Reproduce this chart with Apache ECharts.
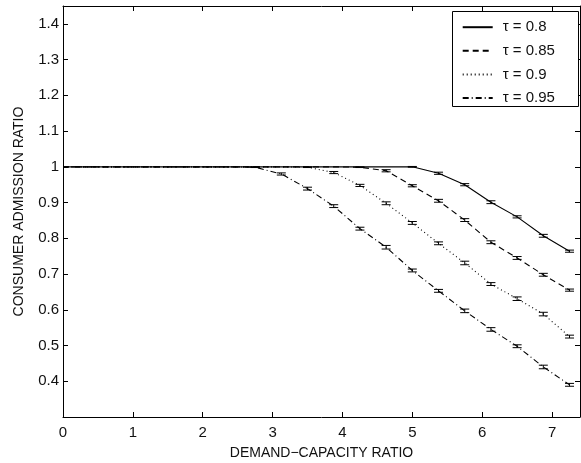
<!DOCTYPE html>
<html><head><meta charset="utf-8">
<script src="https://cdn.jsdelivr.net/npm/echarts@6/dist/echarts.min.js"></script>
<style>html,body{margin:0;padding:0;background:#fff}#c{width:581px;height:463px}</style>
</head><body><div id="c"></div>
<script>
// ---- data ----
const xValues = [0,0.125,0.5,0.875,1.25,1.625,2.0,2.375,2.75,3.125,3.5,3.875,4.25,4.625,5.0,5.375,5.75,6.125,6.5,6.875,7.25];
const seriesNames = ['τ = 0.8','τ = 0.85','τ = 0.9','τ = 0.95'];
const tau080 = [1,1,1,1,1,1,1,1,1,1,1,1,1,1,1.0,0.982,0.950,0.901,0.860,0.807,0.764];
const tau085 = [1,1,1,1,1,1,1,1,1,1,1,1,0.999,0.989,0.947,0.905,0.851,0.789,0.745,0.698,0.655];
const tau090 = [1,1,1,1,1,1,1,1,1,1,0.999,0.984,0.948,0.898,0.843,0.786,0.731,0.672,0.631,0.588,0.525];
const tau095 = [1,1,1,1,1,1,1,1,0.999,0.980,0.939,0.890,0.827,0.775,0.710,0.653,0.597,0.545,0.498,0.440,0.390];
const err080 = [0,0,0,0,0,0,0,0,0,0,0,0,0,0,0.001,0.003,0.003,0.004,0.003,0.004,0.003];
const err085 = [0,0,0,0,0,0,0,0,0,0,0,0,0.001,0.003,0.003,0.004,0.004,0.004,0.004,0.004,0.003];
const err090 = [0,0,0,0,0,0,0,0,0,0,0.001,0.003,0.003,0.004,0.004,0.004,0.005,0.004,0.005,0.005,0.004];
const err095 = [0,0,0,0,0,0,0,0,0.001,0.003,0.004,0.004,0.004,0.005,0.004,0.004,0.005,0.005,0.004,0.005,0.004];
const xTicks = [0,1,2,3,4,5,6,7];
const yTicks = [0.4,0.5,0.6,0.7,0.8,0.9,1,1.1,1.2,1.3,1.4];

const values = [tau080, tau085, tau090, tau095];
const errors = [err080, err085, err090, err095];
const dashes = ['solid', [6,4], [1,3], [6,3,1,3]];
const FONT = 'Liberation Sans';
const TXT = '#111';

const lineSeries = values.map((v, i) => ({
  name: seriesNames[i], type: 'line', xAxisIndex: 0, yAxisIndex: 0,
  data: xValues.map((x, k) => [x, v[k]]),
  symbol: 'none', showSymbol: false, z: 3,
  lineStyle: {color: '#000', width: 1.1, type: dashes[i]},
  itemStyle: {color: '#000'},
  animation: false
}));
const errSeries = values.map((v, i) => ({
  name: 'err' + i, type: 'custom', xAxisIndex: 0, yAxisIndex: 0, z: 4,
  data: xValues.map((x, k) => [x, v[k] - errors[i][k], v[k] + errors[i][k]]).filter((d, k) => errors[i][k] > 0),
  encode: {x: 0, y: [1, 2]},
  renderItem: (params, api) => {
    const x = api.value(0);
    const pLo = api.coord([x, api.value(1)]);
    const pHi = api.coord([x, api.value(2)]);
    const w = 4.5, st = {stroke: '#000', lineWidth: 1};
    return {type: 'group', children: [
      {type: 'line', shape: {x1: pLo[0], y1: pLo[1], x2: pHi[0], y2: pHi[1]}, style: st},
      {type: 'line', shape: {x1: pLo[0]-w, y1: pLo[1], x2: pLo[0]+w, y2: pLo[1]}, style: st},
      {type: 'line', shape: {x1: pHi[0]-w, y1: pHi[1], x2: pHi[0]+w, y2: pHi[1]}, style: st}
    ]};
  },
  animation: false
}));

const axisLine = {show: true, onZero: false, lineStyle: {color: '#000', width: 1}};
const tick = {show: true, inside: true, length: 5, lineStyle: {color: '#000', width: 1}};
const labelStyle = {fontFamily: FONT, fontSize: 15, color: TXT};

const chart = echarts.init(document.getElementById('c'));
chart.setOption({
  animation: false,
  backgroundColor: '#fff',
  grid: {left: 63, right: 1, top: 6, bottom: 46, containLabel: false, outerBoundsMode: 'none'},
  xAxis: [{
    type: 'value', min: 0, max: 7.4, interval: 1, position: 'bottom',
    axisLine, axisTick: tick, splitLine: {show: false},
    axisLabel: Object.assign({margin: 8, showMaxLabel: false,
      formatter: v => xTicks.includes(Math.round(v*1000)/1000) ? String(Math.round(v)) : ''}, labelStyle),
    name: 'DEMAND\u2212CAPACITY RATIO', nameLocation: 'middle', nameGap: 29,
    nameTextStyle: {fontFamily: FONT, fontSize: 14, color: TXT}
  }, {
    type: 'value', min: 0, max: 7.4, interval: 1, position: 'top',
    axisLine, axisTick: tick, axisLabel: {show: false}, splitLine: {show: false}
  }],
  yAxis: [{
    type: 'value', min: 0.3, max: 1.45, interval: 0.1, position: 'left',
    axisLine, axisTick: tick, splitLine: {show: false},
    axisLabel: Object.assign({margin: 4,
      formatter: v => {
        const r = Math.round(v*100)/100;
        return yTicks.some(t => Math.abs(t - r) < 1e-6) ? String(r) : '';
      }}, labelStyle),
    name: 'CONSUMER ADMISSION RATIO', nameLocation: 'middle', nameGap: 37, nameRotate: 90,
    nameTextStyle: {fontFamily: FONT, fontSize: 14, color: TXT}
  }, {
    type: 'value', min: 0.3, max: 1.45, interval: 0.1, position: 'right',
    axisLine, axisTick: tick, axisLabel: {show: false}, splitLine: {show: false}
  }],
  legend: {
    data: seriesNames, orient: 'vertical', left: 452, top: 11,
    padding: [8.7, 10, 5, 9.7], itemWidth: 30, itemHeight: 14, itemGap: 8.6,
    z: 20,
    itemStyle: {opacity: 0},
    textStyle: {fontFamily: FONT, fontSize: 15, color: TXT, padding: [0,0,0,5]},
    selectedMode: false
  },
  graphic: [{
    type: 'rect', z: 10, left: 452, top: 11,
    shape: {width: 126, height: 95},
    style: {fill: '#fff', stroke: '#000', lineWidth: 1}
  }],
  series: lineSeries.concat(errSeries)
});
</script></body></html>
